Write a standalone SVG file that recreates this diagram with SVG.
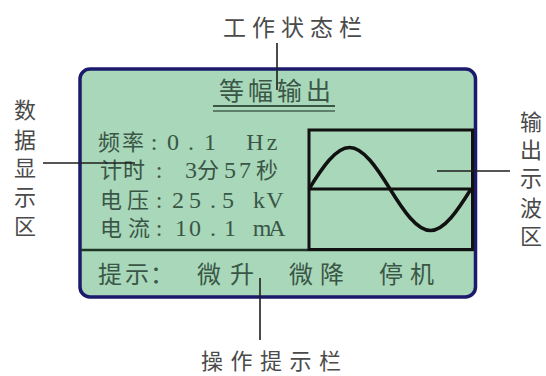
<svg xmlns="http://www.w3.org/2000/svg" width="546" height="376" viewBox="0 0 546 376">
<style>
.lbl{font-family:"Noto Sans CJK SC","Liberation Serif",serif;font-size:23px;fill:#4a4a4a;text-anchor:middle}
.v{font-size:22px}
.lcd{font-family:"Noto Sans CJK SC","Liberation Serif",serif;font-size:22px;fill:#3a5646;text-anchor:middle}
.a{font-family:"Liberation Serif","Noto Sans CJK SC",serif;font-size:24px}
.con{stroke:#1e1e1e;stroke-width:1.6;fill:none}
</style>
<rect width="546" height="376" fill="#ffffff"/>
<g id="screen">
<rect x="80" y="69" width="395.5" height="228" rx="10" fill="#a8d7b9" stroke="#1c1b6b" stroke-width="3.5"/>
<line x1="81" y1="250" x2="474" y2="250" stroke="#1f3527" stroke-width="2.5"/>
</g>
<g id="status-bar">
<text class="lcd" style="font-size:25px" y="100"><tspan x="231.5 260.5 289.5 318.5">等幅输出</tspan></text>
<line x1="213" y1="106" x2="335" y2="106" stroke="#3a5646" stroke-width="2.2"/>
<line x1="213" y1="111" x2="335" y2="111" stroke="#5f7f6c" stroke-width="1.8"/>
</g>
<g id="data-area">
<text class="lcd" y="150"><tspan x="109 133">频率</tspan><tspan class="a" x="154 173 191 210 232 255 272">:0.1 Hz</tspan></text>
<text class="lcd" y="178"><tspan x="111 134">计时</tspan><tspan class="a" x="159 175 191">: 3</tspan><tspan x="208">分</tspan><tspan class="a" x="230 245">57</tspan><tspan x="267">秒</tspan></text>
<text class="lcd" y="208"><tspan x="111 138">电压</tspan><tspan class="a" x="159 178 195 213 228 243 259 275">:25.5 kV</tspan></text>
<text class="lcd" y="236"><tspan x="111 139">电流</tspan><tspan class="a" x="159 181 195 213 230 246 262 277">:10.1 mA</tspan></text>
</g>
<g id="wave-area">
<rect x="309" y="130" width="163.5" height="119.5" fill="none" stroke="#111111" stroke-width="3"/>
<line x1="309" y1="189" x2="472.5" y2="189" stroke="#111111" stroke-width="3"/>
<path d="M309 189 C322.2 167.7 335.7 147.5 349.5 147.5 C363.3 147.5 376.8 167.7 390 189 C403.2 210.3 416.7 230.5 430.5 230.5 C444.3 230.5 457.8 210.3 471 189" fill="none" stroke="#111111" stroke-width="3.5"/>
</g>
<g id="hint-bar">
<text class="lcd" style="font-size:24px" y="283"><tspan x="110 137 162">提示：</tspan><tspan x="209 242">微升</tspan><tspan x="301 332">微降</tspan><tspan x="391 422">停机</tspan></text>
</g>
<g id="label-status">
<text class="lbl" y="35.5"><tspan x="234.5 263.5 292.5 321.5 350.5">工作状态栏</tspan></text>
</g>
<g id="label-data">
<text class="lbl v"><tspan x="25" y="118">数</tspan><tspan x="25" y="148">据</tspan><tspan x="25" y="176">显</tspan><tspan x="25" y="205">示</tspan><tspan x="25" y="234">区</tspan></text>
</g>
<g id="label-wave">
<text class="lbl v"><tspan x="531" y="130">输</tspan><tspan x="531" y="158">出</tspan><tspan x="531" y="186">示</tspan><tspan x="531" y="216">波</tspan><tspan x="531" y="244">区</tspan></text>
</g>
<g id="label-hint">
<text class="lbl" style="font-size:22px" y="369"><tspan x="212 241.5 271 300.5 330">操作提示栏</tspan></text>
</g>
<g id="connectors">
<line class="con" x1="277" y1="43" x2="277" y2="90"/>
<line class="con" x1="43" y1="163" x2="135" y2="163"/>
<line class="con" x1="437" y1="171" x2="510" y2="171"/>
<line class="con" x1="260" y1="278" x2="260" y2="340"/>
</g>
</svg>
